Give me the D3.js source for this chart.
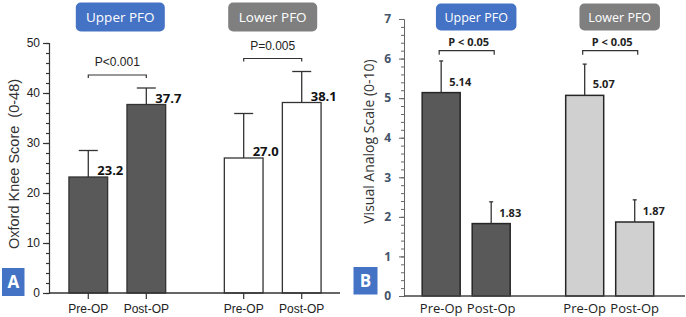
<!DOCTYPE html>
<html>
<head>
<meta charset="utf-8">
<script src="https://cdn.jsdelivr.net/npm/d3@7"></script>
<style>
  body { margin: 0; background: #fff; }
  svg { display: block; }
</style>
</head>
<body>
<svg id="chart" width="686" height="317"></svg>
<script>
// groups shared by both panels
const groups = ['Upper PFO', 'Lower PFO'];

// panel A: Oxford Knee Score (mean and SD, pre / post)
const oksPhases = ['Pre-OP', 'Post-OP'];
const oksUpper = [23.2, 37.7];
const oksLower = [27.0, 38.1];
const oksUpperSd = [5.3, 3.3];
const oksLowerSd = [8.9, 6.2];
const oksPValues = ['P<0.001', 'P=0.005'];
const oksTicks = [0, 10, 20, 30, 40, 50];

// panel B: Visual Analog Scale (mean and SD, pre / post)
const vasPhases = ['Pre-Op', 'Post-Op'];
const vasUpper = [5.14, 1.83];
const vasLower = [5.07, 1.87];
const vasUpperSd = [0.80, 0.55];
const vasLowerSd = [0.79, 0.56];
const vasPValues = ['P < 0.05', 'P < 0.05'];
const vasTicks = [0, 1, 2, 3, 4, 5, 6, 7];

const BLUE = '#4472c4';
const GREY = '#7f7f7f';
const SANS = 'Liberation Sans, Arial, sans-serif';
const OPEN = 'Open Sans, sans-serif';

const svg = d3.select('#chart');

// turn the small arrays into rows
function makeRows(phases, means, sds) {
  return groups.flatMap((g, i) => phases.map((p, j) => ({
    group: g, gi: i, phase: p, mean: means[i][j], sd: sds[i][j]
  })));
}

// the group title box ("Upper PFO" / "Lower PFO")
function titleBox(g, cx, top, w, h, fill, label, fontSize) {
  g.append('rect')
    .attr('x', cx - w / 2).attr('y', top)
    .attr('width', w).attr('height', h)
    .attr('rx', 5).attr('fill', fill);
  g.append('text')
    .attr('x', cx).attr('y', top + h / 2)
    .attr('dy', '0.36em')
    .attr('text-anchor', 'middle')
    .attr('fill', '#fff')
    .style('font-family', OPEN)
    .style('font-size', fontSize + 'px')
    .text(label);
}

// panel letter (A / B)
function panelLetter(x, y, w, h, letter) {
  svg.append('rect').attr('x', x).attr('y', y).attr('width', w).attr('height', h).attr('fill', BLUE);
  svg.append('text')
    .attr('x', x + w / 2).attr('y', y + h / 2).attr('dy', '0.36em')
    .attr('text-anchor', 'middle').attr('fill', '#fff')
    .style('font-family', OPEN).style('font-size', '17px').style('font-weight', 700)
    .text(letter);
}

/* ---------------- Panel A ---------------- */
(function drawOks() {
  const rows = makeRows(oksPhases, [oksUpper, oksLower], [oksUpperSd, oksLowerSd]);
  const g = svg.append('g');

  const y = d3.scaleLinear().domain([0, 50]).range([293, 43]);
  const x0 = d3.scaleBand().domain(groups).range([49, 341]).paddingInner(0.253).paddingOuter(0.066);
  const x1 = d3.scaleBand().domain(oksPhases).range([0, x0.bandwidth()]).paddingInner(0.333).paddingOuter(0.1667);
  const cx = d => x0(d.group) + x1(d.phase) + x1.bandwidth() / 2;

  // y axis, major and minor ticks
  const yAxis = g.append('g').attr('transform', 'translate(49,0)')
    .call(d3.axisLeft(y).tickValues(oksTicks).tickSize(6).tickPadding(3));
  g.append('g').attr('transform', 'translate(49,0)')
    .call(d3.axisLeft(y).tickValues(d3.range(0, 51, 2)).tickSize(3).tickFormat(''))
    .call(a => a.select('.domain').remove());
  yAxis.selectAll('text').style('font-family', SANS).style('font-size', '12px').attr('fill', '#222');
  g.selectAll('.tick line, .domain').attr('stroke', '#333').attr('stroke-width', 1.2);

  // bars
  g.selectAll('rect.bar').data(rows).join('rect')
    .attr('class', 'bar')
    .attr('x', d => x0(d.group) + x1(d.phase))
    .attr('y', d => y(d.mean))
    .attr('width', x1.bandwidth())
    .attr('height', d => y(0) - y(d.mean))
    .attr('fill', d => d.gi === 0 ? '#595959' : '#fff')
    .attr('stroke', '#333').attr('stroke-width', 1.3);

  // error bars (upper whisker + cap)
  g.selectAll('line.err').data(rows).join('line')
    .attr('class', 'err')
    .attr('x1', cx).attr('x2', cx)
    .attr('y1', d => y(d.mean)).attr('y2', d => y(d.mean + d.sd))
    .attr('stroke', '#333').attr('stroke-width', 1.3);
  g.selectAll('line.cap').data(rows).join('line')
    .attr('class', 'cap')
    .attr('x1', d => cx(d) - 9.5).attr('x2', d => cx(d) + 9.5)
    .attr('y1', d => y(d.mean + d.sd)).attr('y2', d => y(d.mean + d.sd))
    .attr('stroke', '#333').attr('stroke-width', 1.3);

  // value labels
  g.selectAll('text.val').data(rows).join('text')
    .attr('class', 'val')
    .attr('x', d => cx(d) + 9)
    .attr('y', d => y(d.mean) - 2)
    .style('font-family', OPEN).style('font-size', '13px').style('font-weight', 700)
    .attr('fill', '#111')
    .text(d => d.mean.toFixed(1));

  // x axis
  g.append('line').attr('x1', 49).attr('x2', 340).attr('y1', y(0)).attr('y2', y(0))
    .attr('stroke', '#333').attr('stroke-width', 1.3);
  g.selectAll('line.xt').data(rows).join('line')
    .attr('class', 'xt')
    .attr('x1', cx).attr('x2', cx).attr('y1', y(0)).attr('y2', y(0) + 6)
    .attr('stroke', '#333').attr('stroke-width', 1.2);
  g.selectAll('text.xl').data(rows).join('text')
    .attr('class', 'xl')
    .attr('x', cx).attr('y', y(0) + 20)
    .attr('text-anchor', 'middle')
    .style('font-family', SANS).style('font-size', '12px').attr('fill', '#222')
    .text(d => d.phase);

  // significance brackets
  groups.forEach((grp, i) => {
    const gr = rows.filter(d => d.gi === i);
    const top = y(d3.max(gr, d => d.mean + d.sd)) - 13;
    const a = cx(gr[0]), b = cx(gr[1]);
    g.append('path')
      .attr('d', `M${a},${top + 3}V${top}H${b}V${top + 3}`)
      .attr('fill', 'none').attr('stroke', '#333').attr('stroke-width', 1.2);
    g.append('text')
      .attr('x', (a + b) / 2).attr('y', top - 9)
      .attr('text-anchor', 'middle')
      .style('font-family', SANS).style('font-size', '12px').attr('fill', '#222')
      .text(oksPValues[i]);
    titleBox(g, x0(grp) + x0.bandwidth() / 2 + (i === 0 ? 3 : 0), 2.5, 89, 29,
      i === 0 ? BLUE : GREY, grp, 13.5);
  });

  // y label
  g.append('text')
    .attr('transform', 'translate(14,164) rotate(-90)')
    .attr('dy', '0.35em')
    .attr('text-anchor', 'middle')
    .style('font-family', SANS).style('font-size', '14.5px').attr('fill', '#333')
    .style('white-space', 'pre')
    .text('Oxford Knee Score  (0-48)');

  panelLetter(2, 268, 22.5, 28, 'A');
})();

/* ---------------- Panel B ---------------- */
(function drawVas() {
  const rows = makeRows(vasPhases, [vasUpper, vasLower], [vasUpperSd, vasLowerSd]);
  const g = svg.append('g');

  const y = d3.scaleLinear().domain([0, 7]).range([296, 19]);
  const x0 = d3.scaleBand().domain(groups).range([404, 685])
    .paddingInner(0.303).paddingOuter(0.1305).align(0.325);
  const x1 = d3.scaleBand().domain(vasPhases).range([0, x0.bandwidth()]).paddingInner(0.24).paddingOuter(0.12);
  const cx = d => x0(d.group) + x1(d.phase) + x1.bandwidth() / 2;

  // y axis, major and minor ticks
  const yAxis = g.append('g').attr('transform', 'translate(404,0)')
    .call(d3.axisLeft(y).tickValues(vasTicks).tickFormat(d3.format('d')).tickSize(5).tickPadding(8));
  g.append('g').attr('transform', 'translate(404,0)')
    .call(d3.axisLeft(y).tickValues(d3.range(0, 7.01, 0.2)).tickSize(3).tickFormat(''))
    .call(a => a.select('.domain').remove());
  yAxis.selectAll('text')
    .style('font-family', OPEN).style('font-size', '12px').style('font-weight', 700)
    .attr('fill', '#44546a');
  g.selectAll('.tick line, .domain').attr('stroke', '#666').attr('stroke-width', 1);

  // bars
  g.selectAll('rect.bar').data(rows).join('rect')
    .attr('class', 'bar')
    .attr('x', d => x0(d.group) + x1(d.phase))
    .attr('y', d => y(d.mean))
    .attr('width', x1.bandwidth())
    .attr('height', d => y(0) - y(d.mean))
    .attr('fill', d => d.gi === 0 ? '#595959' : '#d0d0d0')
    .attr('stroke', '#262626').attr('stroke-width', 1.5);

  // error bars
  g.selectAll('line.err').data(rows).join('line')
    .attr('class', 'err')
    .attr('x1', cx).attr('x2', cx)
    .attr('y1', d => y(d.mean)).attr('y2', d => y(d.mean + d.sd))
    .attr('stroke', '#333').attr('stroke-width', 1.3);
  g.selectAll('line.cap').data(rows).join('line')
    .attr('class', 'cap')
    .attr('x1', d => cx(d) - 2).attr('x2', d => cx(d) + 2)
    .attr('y1', d => y(d.mean + d.sd)).attr('y2', d => y(d.mean + d.sd))
    .attr('stroke', '#333').attr('stroke-width', 1.3);

  // value labels
  g.selectAll('text.val').data(rows).join('text')
    .attr('class', 'val')
    .attr('x', d => cx(d) + 8)
    .attr('y', d => y(d.mean) - 7)
    .style('font-family', OPEN).style('font-size', '11px').style('font-weight', 700)
    .attr('fill', '#222')
    .text(d => d.mean.toFixed(2));

  // x axis
  g.append('line').attr('x1', 404).attr('x2', 685).attr('y1', y(0)).attr('y2', y(0))
    .attr('stroke', '#444').attr('stroke-width', 1.3);
  g.selectAll('text.xl').data(rows).join('text')
    .attr('class', 'xl')
    .attr('x', cx).attr('y', y(0) + 17)
    .attr('text-anchor', 'middle')
    .style('font-family', OPEN).style('font-size', '13px').attr('fill', '#222')
    .text(d => d.phase);

  // brackets and group titles
  groups.forEach((grp, i) => {
    const gr = rows.filter(d => d.gi === i);
    const top = y(6.2);
    const a = cx(gr[0]) - 2, b = cx(gr[1]) + 3;
    g.append('path')
      .attr('d', `M${a},${top + 4}V${top}H${b}V${top + 4}`)
      .attr('fill', 'none').attr('stroke', '#333').attr('stroke-width', 1.2);
    g.append('text')
      .attr('x', (a + b) / 2 + 2).attr('y', top - 5)
      .attr('text-anchor', 'middle')
      .style('font-family', OPEN).style('font-size', '11px').style('font-weight', 700)
      .attr('fill', '#222')
      .text(vasPValues[i]);
    titleBox(g, x0(grp) + x0.bandwidth() / 2 + 10, 3.5, 80.5, 27,
      i === 0 ? BLUE : GREY, grp, 12.5);
  });

  // y label
  g.append('text')
    .attr('transform', 'translate(369,141.5) rotate(-90)')
    .attr('dy', '0.35em')
    .attr('text-anchor', 'middle')
    .style('font-family', OPEN).style('font-size', '14px').attr('fill', '#333')
    .text('Visual Analog Scale (0-10)');

  panelLetter(353.5, 267, 24, 27.5, 'B');
})();
</script>
</body>
</html>
